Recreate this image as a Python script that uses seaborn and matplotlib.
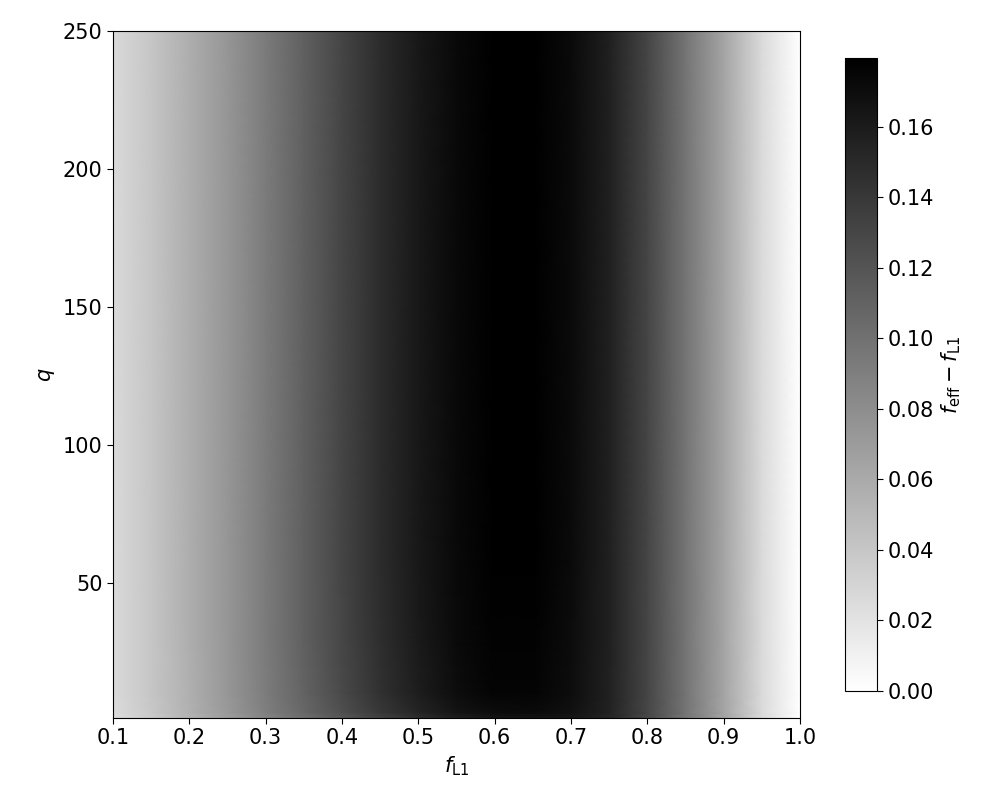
import numpy as np
import matplotlib
matplotlib.use("Agg")
import matplotlib.pyplot as plt
import seaborn as sns

# f_L1 grid (x) and q grid (y)
f_L1 = [0.10, 0.15, 0.20, 0.25, 0.30, 0.35, 0.40, 0.45, 0.50, 0.55,
        0.60, 0.65, 0.70, 0.75, 0.80, 0.85, 0.90, 0.95, 1.00]
q_vals = [1, 3, 10, 30, 60, 250]

# f_eff - f_L1, one row per q value
diff_q1 = [0.024, 0.037, 0.053, 0.069, 0.086, 0.102, 0.118, 0.133, 0.147, 0.158,
           0.164, 0.166, 0.163, 0.153, 0.129, 0.097, 0.064, 0.026, 0.0]
diff_q3 = [0.025, 0.039, 0.055, 0.072, 0.090, 0.107, 0.124, 0.140, 0.154, 0.165,
           0.171, 0.172, 0.167, 0.155, 0.130, 0.098, 0.064, 0.026, 0.0]
diff_q10 = [0.026, 0.040, 0.056, 0.073, 0.092, 0.110, 0.128, 0.145, 0.159, 0.170,
            0.176, 0.176, 0.170, 0.156, 0.131, 0.098, 0.064, 0.026, 0.0]
diff_q30 = [0.026, 0.040, 0.057, 0.074, 0.093, 0.112, 0.130, 0.147, 0.161, 0.172,
            0.178, 0.178, 0.171, 0.157, 0.131, 0.098, 0.064, 0.026, 0.0]
diff_q60 = [0.026, 0.040, 0.057, 0.074, 0.093, 0.112, 0.131, 0.148, 0.162, 0.173,
            0.1795, 0.179, 0.172, 0.157, 0.131, 0.098, 0.064, 0.026, 0.0]
diff_q250 = [0.026, 0.040, 0.057, 0.074, 0.093, 0.112, 0.131, 0.148, 0.162, 0.173,
             0.1795, 0.179, 0.172, 0.157, 0.131, 0.098, 0.064, 0.026, 0.0]

sns.set_style("ticks", {"axes.edgecolor": "black", "xtick.color": "black",
                        "ytick.color": "black", "text.color": "black",
                        "axes.labelcolor": "black"})
plt.rcParams['font.family'] = ['DejaVu Sans']

Z = np.array([diff_q1, diff_q3, diff_q10, diff_q30, diff_q60, diff_q250])
X, Y = np.meshgrid(f_L1, q_vals)
cmap = sns.color_palette("gray_r", as_cmap=True)

fig = plt.figure(figsize=(10, 8), dpi=100)
ax = fig.add_axes([0.113, 0.1025, 0.687, 0.859])
cax = fig.add_axes([0.845, 0.13625, 0.032, 0.79125])

mesh = ax.pcolormesh(X, Y, Z, shading='gouraud', cmap=cmap, vmin=0, vmax=Z.max())
ax.set_xlim(0.1, 1.0)
ax.set_ylim(1, 250)
ax.set_xticks(np.arange(0.1, 1.01, 0.1))
ax.set_yticks([50, 100, 150, 200, 250])
ax.tick_params(labelsize=15, length=4)
ax.set_xlabel(r'$f_{\rm L1}$', fontsize=15)
ax.set_ylabel(r'$q$', fontsize=15)

cb = fig.colorbar(mesh, cax=cax)
cb.set_ticks(np.arange(0, 0.17, 0.02))
cb.ax.yaxis.set_major_formatter(matplotlib.ticker.FormatStrFormatter('%.2f'))
cb.ax.tick_params(labelsize=15, length=4)
cb.set_label(r'$f_{\rm eff} - f_{\rm L1}$', fontsize=15)
cb.outline.set_edgecolor('black')

fig.savefig("out.png", dpi=100)
